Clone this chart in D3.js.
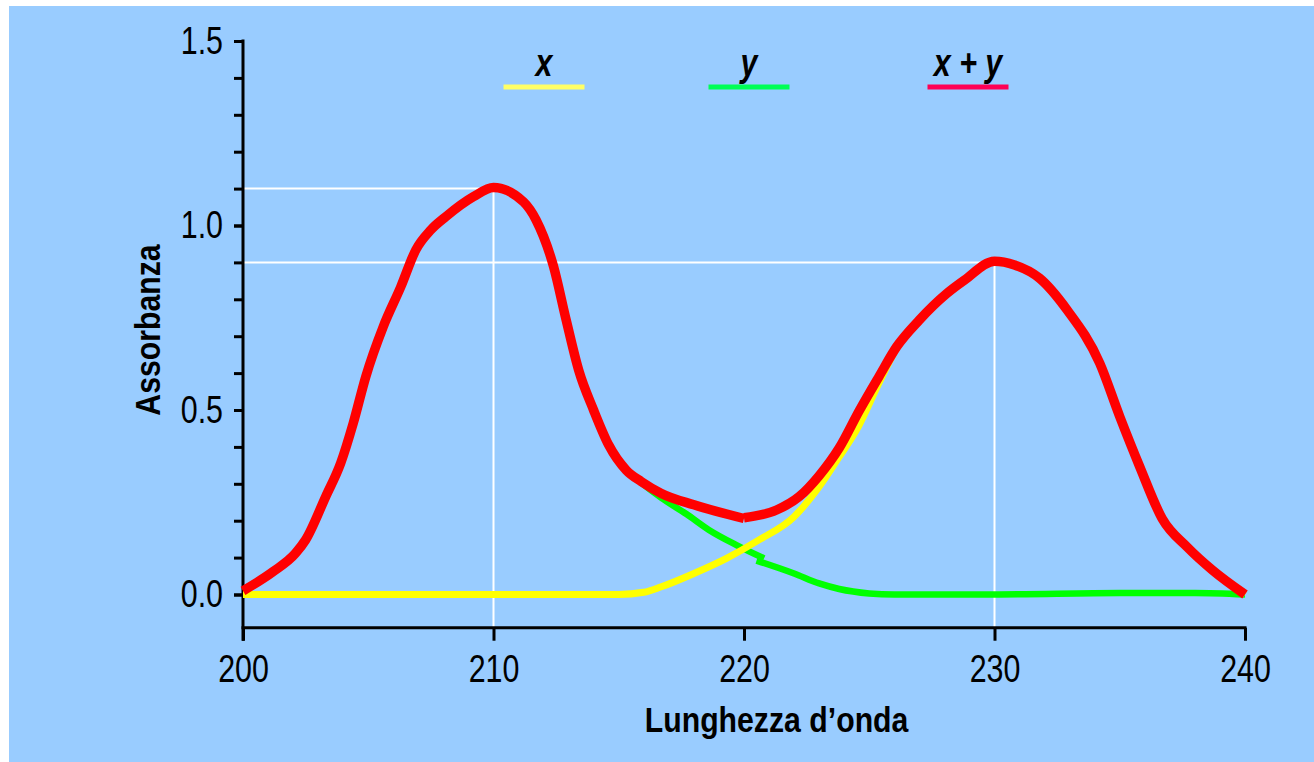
<!DOCTYPE html>
<html>
<head>
<meta charset="utf-8">
<script src="https://cdn.jsdelivr.net/npm/d3@7"></script>
<style>
  body { margin: 0; background: #fff; }
  svg { display: block; }
  text { font-family: "Liberation Sans", Arial, sans-serif; fill: #000; }
</style>
</head>
<body>
<div id="chart"></div>
<script>
// valori: [lunghezza d'onda, assorbanza]
var seriesSum1 = [[200.0, 0.010], [201.2, 0.062], [202.1, 0.112], [202.5, 0.148], [203.3, 0.265], [203.9, 0.356],
    [204.4, 0.464], [204.9, 0.590], [205.6, 0.726], [206.3, 0.834], [206.9, 0.934], [207.5, 0.988], [208.1, 1.024],
    [209.2, 1.078], [210.0, 1.103], [211.2, 1.064], [211.7, 1.015], [212.4, 0.888], [212.9, 0.744], [213.4, 0.608],
    [214.0, 0.499], [214.6, 0.405], [215.3, 0.337], [215.9, 0.306], [216.7, 0.274], [218.0, 0.243], [220.0, 0.206]];
var seriesSum2 = [[220.0, 0.208], [221.3, 0.229], [222.2, 0.265], [223.0, 0.322], [223.8, 0.397], [224.6, 0.498],
    [225.4, 0.592], [226.1, 0.672], [227.0, 0.744], [228.1, 0.816], [228.8, 0.852], [230.0, 0.903], [230.8, 0.893],
    [231.8, 0.857], [232.9, 0.771], [234.2, 0.627], [235.0, 0.482], [235.8, 0.346], [236.7, 0.205], [237.7, 0.128],
    [238.7, 0.066], [240.0, 0.000]];
var seriesY1 = [[200.0, 0.012], [201.2, 0.064], [202.1, 0.113], [202.5, 0.148], [203.3, 0.265], [203.9, 0.356],
    [204.4, 0.464], [204.9, 0.590], [205.6, 0.726], [206.3, 0.834], [206.9, 0.934], [207.5, 0.988], [208.1, 1.024],
    [209.2, 1.078], [210.0, 1.102], [211.2, 1.064], [211.7, 1.015], [212.4, 0.888], [212.9, 0.744], [213.4, 0.608],
    [214.0, 0.499], [214.6, 0.405], [215.3, 0.337], [215.9, 0.303], [216.7, 0.262], [217.7, 0.218], [218.6, 0.175],
    [219.7, 0.134], [220.8, 0.098]];
var seriesY2 = [[220.5, 0.092], [222.0, 0.057], [223.0, 0.030], [223.8, 0.015], [225.0, 0.003], [226.0, 0.000],
    [230.0, 0.000], [235.0, 0.004], [238.0, 0.004], [240.0, 0.000]];
var seriesX = [[200.0, 0.000], [215.0, 0.000], [216.0, 0.006], [216.7, 0.021],
    [218.0, 0.057], [219.3, 0.098], [220.6, 0.148], [222.0, 0.211], [223.0, 0.292], [223.8, 0.373], [224.5, 0.447],
    [225.4, 0.575], [226.1, 0.668], [227.0, 0.742], [228.1, 0.814], [228.8, 0.850], [230.0, 0.901], [230.8, 0.891],
    [231.8, 0.855], [232.9, 0.769], [234.2, 0.625], [235.0, 0.480], [235.8, 0.344], [236.7, 0.203], [237.7, 0.126],
    [238.7, 0.064], [240.0, 0.000]];
var peaks = [[210, 1.1], [230, 0.9]];
var xTicks = [200, 210, 220, 230, 240];
var yTicks = [0, 0.5, 1.0, 1.5];
var yMinorTicks = d3.range(0, 16).map(function(i){ return i / 10; });
var legendLabels = ['x', 'y', 'x + y'];

var W = 1314, H = 762;
var NARROW = 0.8;
var svg = d3.select('#chart').append('svg')
    .attr('width', W)
    .attr('height', H);

svg.append('rect')
    .attr('x', 9).attr('y', 6)
    .attr('width', W - 9).attr('height', H - 6)
    .attr('fill', '#99ccff');

var x = d3.scaleLinear().domain([200, 240]).range([243, 1245]);
var y = d3.scaleLinear().domain([0, 1.5]).range([594.5, 41]);
var axisY = y(-0.09);

// testo "stretto" (Arial Narrow non c'e')
function narrowText(px, py, str, size, sx){
    return svg.append('text')
        .attr('transform', 'translate(' + px + ',' + py + ') scale(' + sx + ',1)')
        .attr('text-anchor', 'middle')
        .attr('font-size', size)
        .text(str);
}

// linee di riferimento bianche
peaks.forEach(function(p){
    svg.append('line')
        .attr('x1', x(200)).attr('x2', x(p[0]))
        .attr('y1', y(p[1])).attr('y2', y(p[1]))
        .attr('stroke', '#fff').attr('stroke-width', 2);
    svg.append('line')
        .attr('x1', x(p[0])).attr('x2', x(p[0]))
        .attr('y1', y(p[1])).attr('y2', axisY)
        .attr('stroke', '#fff').attr('stroke-width', 2);
});

// assi
var gx = svg.append('g')
    .attr('transform', 'translate(0,' + axisY + ')')
    .call(d3.axisBottom(x).tickValues(xTicks).tickSize(13).tickSizeOuter(0).tickPadding(14));
gx.select('.domain').remove();
gx.append('line')
    .attr('x1', x(200) - 1.5).attr('x2', x(240) + 1.5)
    .attr('stroke', '#000').attr('stroke-width', 3);
gx.selectAll('.tick text').attr('transform', 'scale(' + NARROW + ',1)');

var gyMinor = svg.append('g')
    .attr('transform', 'translate(' + x(200) + ',0)')
    .call(d3.axisLeft(y).tickValues(yMinorTicks).tickSize(9).tickFormat(''));
gyMinor.select('.domain').remove();

var gy = svg.append('g')
    .attr('transform', 'translate(' + x(200) + ',0)')
    .call(d3.axisLeft(y).tickValues(yTicks).tickSize(9).tickPadding(16).tickFormat(d3.format('.1f')));
gy.select('.domain').remove();
gy.selectAll('.tick text').attr('transform', 'scale(' + NARROW + ',1)');
gy.append('line')
    .attr('y1', y(1.5) - 1.5).attr('y2', axisY + 13)
    .attr('stroke', '#000').attr('stroke-width', 3);

svg.selectAll('.tick line').attr('stroke', '#000').attr('stroke-width', 3);
svg.selectAll('.tick text').attr('font-size', 38).attr('font-family', null).attr('fill', '#000');

narrowText(x(221.3), 732, 'Lunghezza d\u2019onda', 36, 0.84).attr('font-weight', 'bold');

svg.append('text')
    .attr('transform', 'translate(160,330) rotate(-90) scale(0.84,1)')
    .attr('text-anchor', 'middle')
    .attr('font-size', 36).attr('font-weight', 'bold')
    .text('Assorbanza');

// curve
var line = d3.line()
    .x(function(d){ return x(d[0]); })
    .y(function(d){ return y(d[1]); })
    .curve(d3.curveMonotoneX);

function drawCurve(data, color, width){
    svg.append('path')
        .attr('d', line(data))
        .attr('fill', 'none')
        .attr('stroke', color)
        .attr('stroke-width', width)
        .attr('stroke-linejoin', 'round');
}

drawCurve(seriesY1, '#00ff00', 6.5);
drawCurve(seriesY2, '#00ff00', 6.5);
drawCurve(seriesX, '#ffff00', 7);
drawCurve(seriesSum1, '#ff0000', 9.5);
drawCurve(seriesSum2, '#ff0000', 9.5);

// legenda
var legendX = [544, 749, 968];
var legendColors = ['#ffff66', '#00ff55', '#ff0055'];
legendLabels.forEach(function(label, i){
    narrowText(legendX[i], 76, label, 38, 0.8)
        .attr('font-style', 'italic').attr('font-weight', 'bold');
    svg.append('line')
        .attr('x1', legendX[i] - 40.5).attr('x2', legendX[i] + 40.5)
        .attr('y1', 87).attr('y2', 87)
        .attr('stroke', legendColors[i]).attr('stroke-width', 5);
});
</script>
</body>
</html>
